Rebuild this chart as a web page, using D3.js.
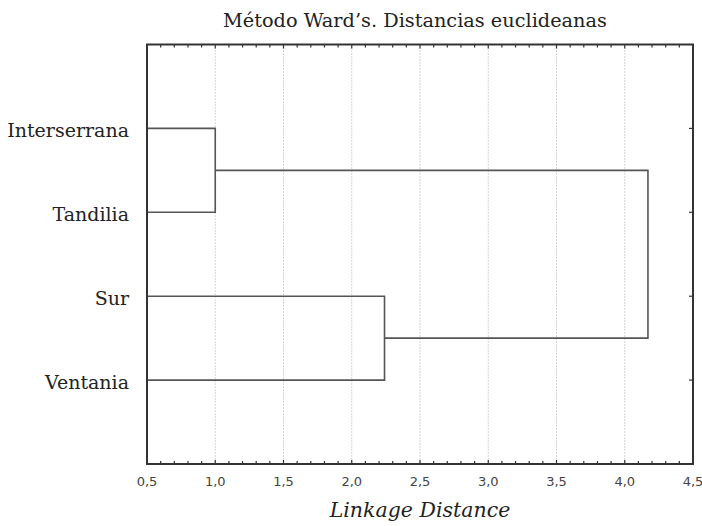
<!DOCTYPE html>
<html>
<head>
<meta charset="utf-8">
<script src="https://cdn.jsdelivr.net/npm/d3@7"></script>
<style>
  body { margin: 0; background: #fff; }
  svg { display: block; }
</style>
</head>
<body>
<div id="chart"></div>
<script>
// leaves, top to bottom
const leaves = ['Interserrana', 'Tandilia', 'Sur', 'Ventania'];
// merges: node ids 0..3 are leaves, 4.. are clusters in merge order
const mergeA = [0, 2, 4];
const mergeB = [1, 3, 5];
const mergeHeight = [1.0, 2.24, 4.17];
const xTicks = [0.5, 1.0, 1.5, 2.0, 2.5, 3.0, 3.5, 4.0, 4.5];

const W = 702, H = 526;
const margin = { left: 147, right: 9, top: 44.5, bottom: 62 };

const svg = d3.select('#chart').append('svg')
    .attr('width', W)
    .attr('height', H);

const x = d3.scaleLinear()
    .domain([0.5, 4.5])
    .range([margin.left, W - margin.right]);

const y = d3.scaleLinear()
    .domain([0, leaves.length + 1])
    .range([margin.top, H - margin.bottom]);

const x0 = x.range()[0], x1 = x.range()[1];
const y0 = y.range()[0], y1 = y.range()[1];

// grid lines
svg.append('g')
    .selectAll('line')
    .data(xTicks.slice(1, -1))
    .join('line')
    .attr('x1', d => x(d)).attr('x2', d => x(d))
    .attr('y1', y0).attr('y2', y1)
    .attr('stroke', '#aaa')
    .attr('stroke-width', 1)
    .attr('stroke-dasharray', '1,2');

// node positions
const nodes = leaves.map((name, i) => ({ name, px: x(0.5), py: y(i + 1) }));
mergeA.forEach((a, i) => {
    const b = mergeB[i];
    nodes.push({ px: x(mergeHeight[i]), py: (nodes[a].py + nodes[b].py) / 2, a, b });
});

const link = svg.append('g')
    .attr('fill', 'none')
    .attr('stroke', '#555')
    .attr('stroke-width', 1.6);

nodes.filter(n => n.a !== undefined).forEach(n => {
    const A = nodes[n.a], B = nodes[n.b];
    link.append('path')
        .attr('d', `M${A.px},${A.py}H${n.px}V${B.py}H${B.px}`);
});

// minor ticks on top and bottom
const minor = d3.range(5, 46).map(d => d / 10);
const isMajor = d => Math.abs(d * 2 - Math.round(d * 2)) < 1e-6;
const tickG = svg.append('g').attr('stroke', '#333').attr('stroke-width', 1.2);
tickG.selectAll('.tb')
    .data(minor)
    .join('line')
    .attr('class', 'tb')
    .attr('x1', d => x(d)).attr('x2', d => x(d))
    .attr('y1', y1).attr('y2', d => y1 - (isMajor(d) ? 4 : 3));
tickG.selectAll('.tt')
    .data(minor)
    .join('line')
    .attr('class', 'tt')
    .attr('x1', d => x(d)).attr('x2', d => x(d))
    .attr('y1', y0).attr('y2', d => y0 + (isMajor(d) ? 4 : 3));

// right side ticks at leaves
tickG.selectAll('.tr')
    .data(leaves)
    .join('line')
    .attr('class', 'tr')
    .attr('x1', x1).attr('x2', x1 - 4)
    .attr('y1', (d, i) => y(i + 1)).attr('y2', (d, i) => y(i + 1));

// frame
svg.append('rect')
    .attr('x', x0).attr('y', y0)
    .attr('width', x1 - x0).attr('height', y1 - y0)
    .attr('fill', 'none')
    .attr('stroke', '#333')
    .attr('stroke-width', 2);

// leaf labels
svg.append('g')
    .selectAll('text')
    .data(leaves)
    .join('text')
    .attr('x', 129)
    .attr('y', (d, i) => y(i + 1) + 9)
    .attr('text-anchor', 'end')
    .attr('font-family', 'DejaVu Serif')
    .attr('font-size', 19)
    .attr('fill', '#222')
    .text(d => d);

// x tick labels
svg.append('g')
    .selectAll('text')
    .data(xTicks)
    .join('text')
    .attr('x', d => x(d))
    .attr('y', y1 + 22)
    .attr('text-anchor', 'middle')
    .attr('font-family', 'DejaVu Sans')
    .attr('font-size', 13)
    .attr('fill', '#444')
    .text(d => d3.format('.1f')(d).replace('.', ','));

// axis title
svg.append('text')
    .attr('x', (x0 + x1) / 2)
    .attr('y', 517)
    .attr('text-anchor', 'middle')
    .attr('font-family', 'DejaVu Serif')
    .attr('font-style', 'italic')
    .attr('font-size', 20.5)
    .attr('fill', '#222')
    .text('Linkage Distance');

// chart title
svg.append('text')
    .attr('x', 415)
    .attr('y', 27)
    .attr('text-anchor', 'middle')
    .attr('font-family', 'DejaVu Serif')
    .attr('font-size', 19.3)
    .attr('fill', '#222')
    .text('Método Ward\u2019s. Distancias euclideanas');
</script>
</body>
</html>
